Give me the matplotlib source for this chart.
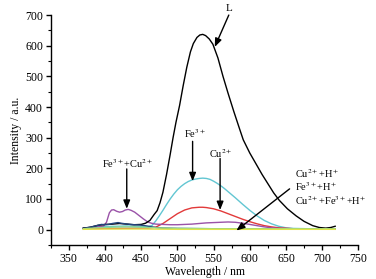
import matplotlib
matplotlib.use("Agg")
import matplotlib.pyplot as plt
from matplotlib.ticker import MultipleLocator

plt.rcParams['font.family'] = ['Liberation Serif', 'DejaVu Serif']
plt.rcParams['mathtext.fontset'] = 'stix'

# ---- data ----
L_x = [370, 380, 390, 400, 410, 420, 430, 440, 450, 456, 462, 468, 472, 476, 480, 485, 490, 494, 498,
       503, 508, 513, 518, 522, 527, 531, 535, 539, 544, 549, 556, 563, 570, 578, 586, 591, 600, 609,
       617, 625, 633, 641, 652, 664, 675, 687, 696, 705, 712, 718]
L_y = [5, 8, 14, 17, 18, 20, 18, 16, 17, 21, 30, 50, 62, 88, 122, 180, 245, 300, 350,
       405, 470, 530, 580, 607, 627, 635, 637, 633, 622, 605, 560, 500, 445, 385, 328, 293, 250, 213,
       180, 150, 120, 95, 68, 45, 27, 13, 7, 5, 7, 11]

Fe_x = [370, 400, 430, 450, 460, 465, 470, 475, 480, 485, 490, 495, 500, 505, 510, 515, 520, 525, 530,
        535, 540, 545, 550, 555, 560, 565, 570, 575, 580, 590, 600, 610, 620, 630, 640, 650, 660, 680,
        700, 718]
Fe_y = [5, 10, 12, 10, 10, 14, 28, 45, 63, 82, 100, 116, 130, 141, 150, 157, 162, 165, 167,
        168, 167, 164, 158, 151, 143, 134, 124, 114, 104, 83, 63, 45, 30, 19, 11, 6, 4, 3,
        3, 3]

Cu_x = [370, 460, 470, 480, 490, 500, 510, 520, 530, 535, 540, 550, 560, 570, 580, 590, 600, 610, 620,
        630, 640, 660, 700, 718]
Cu_y = [3, 5, 8, 20, 36, 52, 64, 71, 73, 73, 72, 68, 61, 52, 43, 34, 26, 19, 13,
        9, 6, 3, 2, 2]

FeCu_x = [370, 380, 390, 398, 402, 406, 409, 412, 416, 420, 424, 428, 432, 436, 441, 447, 453, 459, 464,
          470, 480, 490, 500, 510, 520, 530, 540, 550, 560, 570, 580, 590, 600, 610, 620, 630, 640, 660,
          680, 700, 718]
FeCu_y = [5, 7, 9, 12, 24, 55, 64, 65, 60, 57, 59, 64, 66, 63, 57, 46, 35, 25, 21,
          18, 17, 16, 16, 17, 18, 20, 22, 23, 24, 25, 24, 21, 17, 13, 9, 6, 4, 3,
          2, 2, 2]

CuH_x = [370, 380, 390, 395, 400, 405, 410, 415, 418, 422, 428, 435, 441, 448, 455, 462, 470, 480, 500,
         550, 600, 650, 700, 718]
CuH_y = [4, 8, 14, 17, 16, 17, 20, 22, 23, 21, 19, 17, 16, 15, 13, 10, 7, 5, 4,
         3, 3, 3, 3, 3]

FeH_x = [370, 390, 410, 430, 450, 470, 500, 550, 600, 650, 700, 718]
FeH_y = [3, 6, 8, 9, 8, 6, 4, 3, 3, 3, 3, 3]

CuFeH_x = [370, 400, 450, 500, 600, 718]
CuFeH_y = [1, 2, 2, 1, 1, 1]

fig = plt.figure(figsize=(3.76, 2.79), dpi=100)
ax = fig.add_axes([0.135, 0.122, 0.818, 0.824])

lw = 1.0
ax.plot(Fe_x, Fe_y, color='#62c6d2', lw=lw)
ax.plot(Cu_x, Cu_y, color='#e23a3a', lw=lw)
ax.plot(FeCu_x, FeCu_y, color='#9a52a8', lw=lw)
ax.plot(L_x, L_y, color='black', lw=lw)
ax.plot(CuH_x, CuH_y, color='#23457e', lw=lw)
ax.plot(FeH_x, FeH_y, color='#8fd88a', lw=lw)
ax.plot(CuFeH_x, CuFeH_y, color='#e3e34a', lw=lw)

ax.set_xlim(325, 750)
ax.set_ylim(-50, 700)
ax.xaxis.set_minor_locator(MultipleLocator(25))
ax.yaxis.set_minor_locator(MultipleLocator(50))
ax.set_xticks([350, 400, 450, 500, 550, 600, 650, 700, 750])
ax.set_yticks([0, 100, 200, 300, 400, 500, 600, 700])
ax.spines['top'].set_visible(False)
ax.spines['right'].set_visible(False)
for s in ('left', 'bottom'):
    ax.spines[s].set_linewidth(1.0)
ax.tick_params(which='major', direction='out', length=3.5, width=1.0, labelsize=8.5, pad=2)
ax.tick_params(which='minor', direction='out', length=2, width=0.8)

ax.set_xlabel('Wavelength / nm', fontsize=8.5, labelpad=1)
ax.set_ylabel('Intensity / a.u.', fontsize=8.5, labelpad=2)

ap = dict(arrowstyle='-|>,head_length=0.5,head_width=0.2', color='black', lw=1.0,
          shrinkA=0, shrinkB=0)
fs = 7.5
ax.text(572, 722, 'L', ha='center', va='center', fontsize=8, clip_on=False)
ax.annotate('', xy=(551.6, 596), xytext=(571, 700), arrowprops=ap, annotation_clip=False)

ax.text(524, 312, 'Fe$^{3+}$', ha='center', va='center', fontsize=fs)
ax.annotate('', xy=(521, 158), xytext=(521, 288), arrowprops=ap)

ax.text(560, 249, 'Cu$^{2+}$', ha='center', va='center', fontsize=fs)
ax.annotate('', xy=(559, 64), xytext=(559, 232), arrowprops=ap)

ax.text(431.6, 216, 'Fe$^{3+}$+Cu$^{2+}$', ha='center', va='center', fontsize=fs)
ax.annotate('', xy=(430, 68), xytext=(430, 198), arrowprops=ap)

ax.text(662, 184, 'Cu$^{2+}$+H$^{+}$', ha='left', va='center', fontsize=fs)
ax.text(662, 140, 'Fe$^{3+}$+H$^{+}$', ha='left', va='center', fontsize=fs)
ax.text(662, 95, 'Cu$^{2+}$+Fe$^{3+}$+H$^{+}$', ha='left', va='center', fontsize=fs)
ax.annotate('', xy=(581.5, -3), xytext=(655, 133), arrowprops=ap)

fig.savefig('out.png', dpi=100)
